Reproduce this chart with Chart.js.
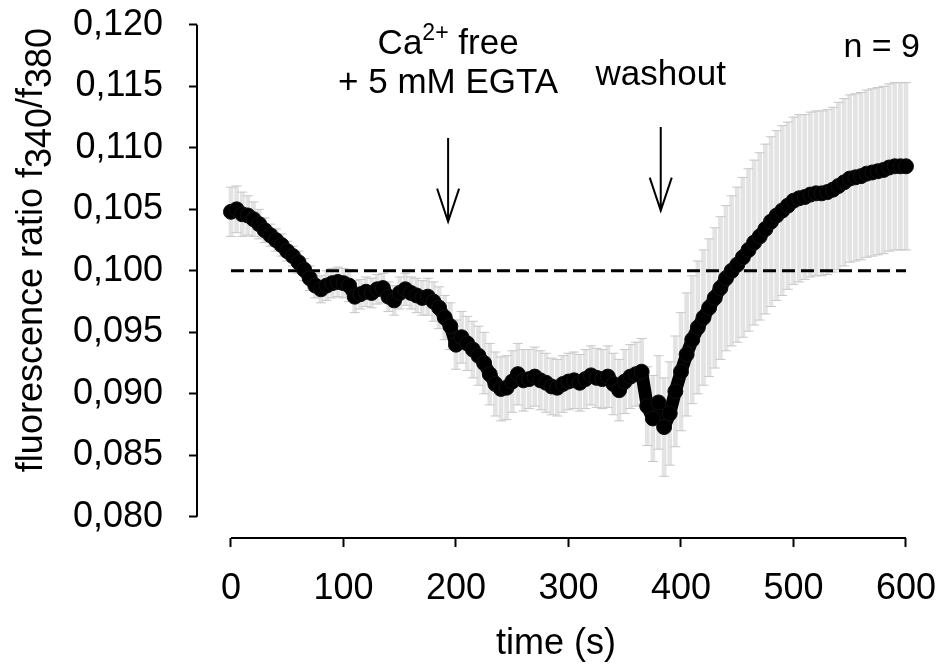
<!DOCTYPE html>
<html>
<head>
<meta charset="utf-8">
<script src="https://cdn.jsdelivr.net/npm/chart.js@4.4.1/dist/chart.umd.min.js"></script>
<style>
  html, body { margin: 0; padding: 0; background: #fff; }
</style>
</head>
<body>
<canvas id="chart" width="939" height="666"></canvas>
<script>
const FONT = "'Liberation Sans', Arial, sans-serif";

// time points (s)
const times = [
  0, 5, 10, 15, 20, 25, 30, 35, 40, 45, 50, 55, 60, 65, 70, 75, 80, 85, 90, 95,
  100, 105, 110, 115, 120, 125, 130, 135, 140, 145, 150, 155, 160, 165, 170, 175, 180, 185, 190, 195,
  200, 205, 210, 215, 220, 225, 230, 235, 240, 245, 250, 255, 260, 265, 270, 275, 280, 285, 290, 295,
  300, 305, 310, 315, 320, 325, 330, 335, 340, 345, 350, 355, 360, 365, 370, 375, 380, 385, 390, 395,
  400, 405, 410, 415, 420, 425, 430, 435, 440, 445, 450, 455, 460, 465, 470, 475, 480, 485, 490, 495,
  500, 505, 510, 515, 520, 525, 530, 535, 540, 545, 550, 555, 560, 565, 570, 575, 580, 585, 590, 595,
  600,
];

// mean f340/f380
const ratioMean = [
  0.1048, 0.1050, 0.1046, 0.1045, 0.1042, 0.1038, 0.1033, 0.1029, 0.1025, 0.1021,
  0.1016, 0.1012, 0.1007, 0.1001, 0.0994, 0.0988, 0.0985, 0.0988, 0.0990, 0.0991,
  0.0990, 0.0988, 0.0979, 0.0981, 0.0983, 0.0982, 0.0985, 0.0986, 0.0979, 0.0976,
  0.0982, 0.0985, 0.0982, 0.0980, 0.0978, 0.0979, 0.0975, 0.0970, 0.0962, 0.0955,
  0.0940, 0.0946, 0.0941, 0.0936, 0.0931, 0.0925, 0.0916, 0.0908, 0.0904, 0.0905,
  0.0910, 0.0916, 0.0911, 0.0912, 0.0914, 0.0911, 0.0909, 0.0906, 0.0905, 0.0908,
  0.0910, 0.0911, 0.0909, 0.0912, 0.0915, 0.0913, 0.0912, 0.0914, 0.0908, 0.0903,
  0.0910, 0.0914, 0.0916, 0.0918, 0.0890, 0.0880, 0.0893, 0.0873, 0.0884, 0.0902,
  0.0918, 0.0932, 0.0944, 0.0954, 0.0962, 0.0970, 0.0978, 0.0986, 0.0994, 0.1000,
  0.1005, 0.1011, 0.1017, 0.1023, 0.1028, 0.1034, 0.1040, 0.1045, 0.1049, 0.1053,
  0.1057, 0.1059, 0.1060, 0.1062, 0.1063, 0.1063, 0.1064, 0.1066, 0.1069, 0.1072,
  0.1075, 0.1076, 0.1077, 0.1079, 0.1080, 0.1081, 0.1082, 0.1084, 0.1085, 0.1085,
  0.1085,
];

// SEM (n = 9)
const ratioSem = [
  0.0020, 0.0019, 0.0018, 0.0016, 0.0014, 0.0012, 0.0010, 0.0009, 0.0009, 0.0009,
  0.0008, 0.0008, 0.0009, 0.0009, 0.0010, 0.0010, 0.0011, 0.0012, 0.0012, 0.0012,
  0.0012, 0.0013, 0.0013, 0.0012, 0.0012, 0.0012, 0.0012, 0.0012, 0.0012, 0.0012,
  0.0013, 0.0013, 0.0013, 0.0014, 0.0014, 0.0015, 0.0016, 0.0017, 0.0018, 0.0019,
  0.0020, 0.0021, 0.0022, 0.0023, 0.0024, 0.0025, 0.0025, 0.0026, 0.0026, 0.0026,
  0.0025, 0.0025, 0.0025, 0.0024, 0.0024, 0.0024, 0.0024, 0.0023, 0.0023, 0.0023,
  0.0023, 0.0023, 0.0023, 0.0024, 0.0024, 0.0024, 0.0024, 0.0025, 0.0025, 0.0025,
  0.0026, 0.0026, 0.0026, 0.0027, 0.0032, 0.0035, 0.0038, 0.0040, 0.0042, 0.0045,
  0.0048, 0.0050, 0.0052, 0.0054, 0.0055, 0.0056, 0.0057, 0.0058, 0.0059, 0.0061,
  0.0063, 0.0065, 0.0066, 0.0067, 0.0068, 0.0069, 0.0069, 0.0069, 0.0069, 0.0068,
  0.0068, 0.0068, 0.0067, 0.0067, 0.0067, 0.0067, 0.0067, 0.0067, 0.0068, 0.0068,
  0.0068, 0.0068, 0.0068, 0.0068, 0.0068, 0.0068, 0.0068, 0.0068, 0.0068, 0.0068,
  0.0068,
];

const yTicks = [0.080, 0.085, 0.090, 0.095, 0.100, 0.105, 0.110, 0.115, 0.120];
const xTicks = [0, 100, 200, 300, 400, 500, 600];
const baseline = 0.100;
const caFreeAt = 193;
const washoutAt = 382;

const meanPts = times.map((t, i) => ({ x: t, y: ratioMean[i] }));
const errBars = times.map((t, i) => ({ x: t, y: [ratioMean[i] - ratioSem[i], ratioMean[i] + ratioSem[i]] }));
const capsHi = times.map((t, i) => ({ x: t, y: ratioMean[i] + ratioSem[i] }));
const capsLo = times.map((t, i) => ({ x: t, y: ratioMean[i] - ratioSem[i] }));

const drawArrow = (ctx, x, yTop, yTip) => {
  ctx.beginPath();
  ctx.moveTo(x, yTop);
  ctx.lineTo(x, yTip);
  ctx.moveTo(x - 11, yTip - 33);
  ctx.lineTo(x, yTip);
  ctx.lineTo(x + 11, yTip - 33);
  ctx.stroke();
};

// draw pieces [text, dy, size] centred on cx
const drawPieces = (ctx, parts, cx, by) => {
  let w = 0;
  parts.forEach(([txt, , size]) => {
    ctx.font = `${size}px ${FONT}`;
    w += ctx.measureText(txt).width;
  });
  let px = cx - w / 2;
  parts.forEach(([txt, dy, size]) => {
    ctx.font = `${size}px ${FONT}`;
    ctx.fillText(txt, px, by + dy);
    px += ctx.measureText(txt).width;
  });
};

const extras = {
  id: 'extras',
  afterDraw(chart) {
    const { ctx, chartArea, scales: { x, y } } = chart;
    ctx.save();
    ctx.strokeStyle = '#000';
    ctx.fillStyle = '#000';
    ctx.lineWidth = 2;

    // detached axis lines
    ctx.beginPath();
    ctx.moveTo(chartArea.left, y.getPixelForValue(yTicks[0]));
    ctx.lineTo(chartArea.left, y.getPixelForValue(yTicks[yTicks.length - 1]));
    ctx.moveTo(x.getPixelForValue(xTicks[0]), chartArea.bottom);
    ctx.lineTo(x.getPixelForValue(xTicks[xTicks.length - 1]), chartArea.bottom);
    ctx.stroke();

    // arrows
    drawArrow(ctx, x.getPixelForValue(caFreeAt), y.getPixelForValue(0.1108), y.getPixelForValue(0.1040));
    drawArrow(ctx, x.getPixelForValue(washoutAt), y.getPixelForValue(0.1117), y.getPixelForValue(0.1049));

    ctx.textBaseline = 'alphabetic';
    ctx.textAlign = 'left';
    const cxCa = x.getPixelForValue(caFreeAt);
    drawPieces(ctx, [['Ca', 0, 35], ['2+', -14, 23], [' free', 0, 35]], cxCa, 54);
    drawPieces(ctx, [['+ 5 mM EGTA', 0, 35]], cxCa, 93);
    drawPieces(ctx, [['washout', 0, 35]], x.getPixelForValue(washoutAt), 85);

    ctx.textAlign = 'right';
    ctx.font = `34px ${FONT}`;
    ctx.fillText('n = 9', 920, 57);

    // y title with subscripts
    ctx.textAlign = 'left';
    ctx.translate(42, 250);
    ctx.rotate(-Math.PI / 2);
    drawPieces(ctx, [['fluorescence ratio f', 0, 36], ['340', 9, 36], ['/f', 0, 36], ['380', 9, 36]], 0, 0);
    ctx.restore();
  },
};

new Chart(document.getElementById('chart'), {
  type: 'scatter',
  data: {
    datasets: [
      {
        type: 'bar',
        data: errBars,
        backgroundColor: '#e3e3e3',
        borderWidth: 0,
        barThickness: 4,
        order: 4,
      },
      {
        data: capsHi,
        pointStyle: 'line',
        pointRadius: 5,
        borderColor: '#c8c8c8',
        borderWidth: 1,
        order: 3,
      },
      {
        data: capsLo,
        pointStyle: 'line',
        pointRadius: 5,
        borderColor: '#c8c8c8',
        borderWidth: 1,
        order: 3,
      },
      {
        type: 'line',
        data: [{ x: xTicks[0], y: baseline }, { x: xTicks[xTicks.length - 1], y: baseline }],
        borderColor: '#000',
        borderWidth: 3,
        borderDash: [13, 6],
        pointRadius: 0,
        order: 2,
      },
      {
        data: meanPts,
        showLine: true,
        borderColor: '#000',
        borderWidth: 13,
        borderJoinStyle: 'round',
        pointRadius: 7.5,
        pointBackgroundColor: '#000',
        pointBorderColor: '#111',
        pointBorderWidth: 1,
        order: 1,
      },
    ],
  },
  options: {
    responsive: false,
    animation: false,
    layout: { padding: { top: 15, right: 24, left: 0, bottom: 0 } },
    plugins: {
      legend: { display: false },
      tooltip: { enabled: false },
    },
    scales: {
      x: {
        type: 'linear',
        min: -30.2,
        max: 608,
        offset: false,
        afterFit: (scale) => {
          scale.height = 128;
          scale.paddingLeft = 0;
          scale.paddingRight = 0;
        },
        afterBuildTicks: (scale) => { scale.ticks = xTicks.map((v) => ({ value: v })); },
        border: { display: false },
        grid: { offset: false, drawOnChartArea: false, drawTicks: true, tickLength: 9, tickWidth: 2, tickColor: '#000' },
        ticks: {
          autoSkip: false,
          maxRotation: 0,
          padding: 20,
          color: '#000',
          font: { family: FONT, size: 36 },
          callback: (v) => `${v}`,
        },
        title: {
          display: true,
          text: 'time (s)',
          color: '#000',
          font: { family: FONT, size: 36 },
          padding: { top: 0, bottom: 0 },
        },
      },
      y: {
        type: 'linear',
        min: 0.07828,
        max: 0.1208,
        afterFit: (scale) => {
          scale.width = 197;
          scale.paddingTop = 0;
          scale.paddingBottom = 0;
        },
        afterBuildTicks: (scale) => { scale.ticks = yTicks.map((v) => ({ value: v })); },
        border: { display: false },
        grid: { drawOnChartArea: false, drawTicks: true, tickLength: 8, tickWidth: 2, tickColor: '#000' },
        ticks: {
          autoSkip: false,
          padding: 26,
          color: '#000',
          font: { family: FONT, size: 36 },
          callback: (v) => v.toFixed(3).replace('.', ','),
        },
      },
    },
  },
  plugins: [extras],
});
</script>
</body>
</html>
